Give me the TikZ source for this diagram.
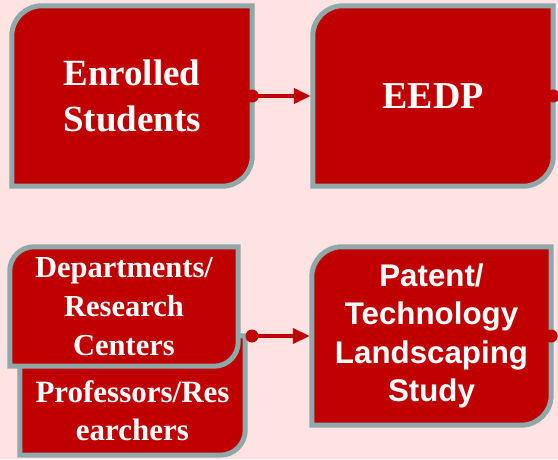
\documentclass[tikz,border=0pt]{standalone}
\usepackage{fontspec}
\setmainfont{Liberation Serif}
\newfontfamily\arialfont{Liberation Sans}
\usetikzlibrary{arrows.meta,backgrounds}
\definecolor{bgpink}{RGB}{255,226,226}
\definecolor{boxred}{RGB}{192,0,0}
\definecolor{edgegray}{RGB}{143,168,170}
\tikzset{
  boxpath/.style={fill=boxred, draw=edgegray, line width=5pt},
  boxnode/.style={rectangle, inner sep=0pt, text=white, align=center},
  link/.style={draw=boxred, line width=4pt, -{Triangle[length=17pt,width=15pt]}},
  dotmark/.style={fill=boxred},
}
\begin{document}
\begin{tikzpicture}[x=1pt,y=1pt]
\useasboundingbox (0,0) rectangle (558,459);

\node[boxnode, minimum width=240pt, minimum height=180pt,
  font=\bfseries\fontsize{37}{46}\selectfont] (es) at (132,363)
  {Enrolled\\Students};
\node[boxnode, minimum width=240pt, minimum height=180pt,
  font=\bfseries\fontsize{38}{46}\selectfont] (eedp) at (433,363)
  {EEDP};
\node[boxnode, minimum width=225pt, minimum height=88pt,
  font=\bfseries\fontsize{31}{38}\selectfont] (prof) at (132.5,48)
  {Professors/Res\\earchers};
\node[boxnode, minimum width=226pt, minimum height=119pt,
  font=\bfseries\fontsize{30.5}{39}\selectfont] (dep) at (124,152.5)
  {Departments/\\Research\\Centers};
\node[boxnode, minimum width=239pt, minimum height=178pt,
  font=\arialfont\bfseries\fontsize{31.3}{38.5}\selectfont] (pt) at (431.5,123)
  {Patent/\\Technology\\Landscaping\\Study};

\begin{scope}[on background layer]
  \fill[bgpink] (0,0) rectangle (558,459);
  \path[boxpath] (es.south west) -- ([yshift=-30pt]es.north west)
    arc[start angle=180,end angle=90,radius=30pt] -- (es.north east)
    -- ([yshift=30pt]es.south east) arc[start angle=0,end angle=-90,radius=30pt] -- cycle;
  \path[boxpath] (eedp.south west) -- ([yshift=-30pt]eedp.north west)
    arc[start angle=180,end angle=90,radius=30pt] -- (eedp.north east)
    -- ([yshift=30pt]eedp.south east) arc[start angle=0,end angle=-90,radius=30pt] -- cycle;
  \path[boxpath] (prof.south west) -- ([yshift=31pt]prof.north west)
    -- ([yshift=31pt]prof.north east)
    -- ([yshift=25pt]prof.south east) arc[start angle=0,end angle=-90,radius=25pt] -- cycle;
  \path[boxpath] ([xshift=-1pt]dep.south west) -- ([xshift=-1pt,yshift=-24pt]dep.north west)
    arc[start angle=180,end angle=90,radius=24pt] -- ([xshift=1pt]dep.north east)
    -- ([xshift=1pt,yshift=24pt]dep.south east) arc[start angle=0,end angle=-90,radius=24pt] -- cycle;
  \path[boxpath] (pt.south west) -- ([yshift=-30pt]pt.north west)
    arc[start angle=180,end angle=90,radius=30pt] -- (pt.north east)
    -- ([yshift=30pt]pt.south east) arc[start angle=0,end angle=-90,radius=30pt] -- cycle;
\end{scope}

\coordinate (src) at (252,123);
\draw[link] (es.east) -- ([xshift=-2pt]eedp.west);
\draw[link] (src) -- ([xshift=-2pt]pt.west);
\fill[dotmark] (es.east) circle[radius=6.5pt];
\fill[dotmark] (eedp.east) circle[radius=6.5pt];
\fill[dotmark] (src) circle[radius=6.5pt];
\fill[dotmark] (pt.east) circle[radius=6.5pt];
\end{tikzpicture}
\end{document}
